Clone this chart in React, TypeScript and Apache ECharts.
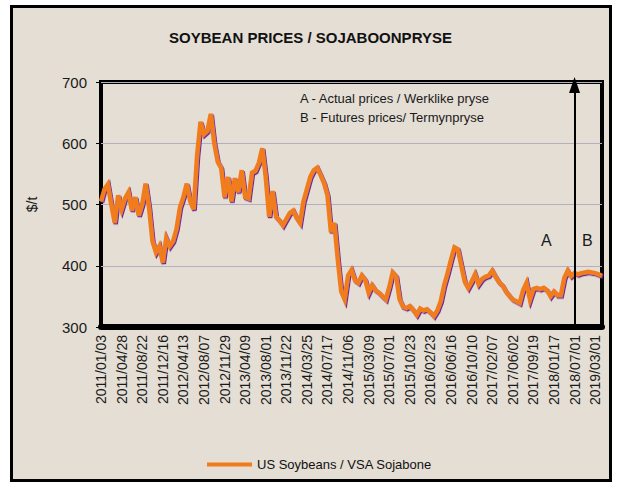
import React, { useEffect, useRef } from "react";
import * as echarts from "echarts";

const tickLabels = [
  "2011/01/03", "2011/04/28", "2011/08/22", "2011/12/16", "2012/04/13",
  "2012/08/07", "2012/11/29", "2013/04/09", "2013/08/01", "2013/11/22",
  "2014/03/25", "2014/07/17", "2014/11/06", "2015/03/09", "2015/07/01",
  "2015/10/23", "2016/02/23", "2016/06/16", "2016/10/10", "2017/02/07",
  "2017/06/02", "2017/09/19", "2018/01/17", "2018/07/01", "2019/03/01",
];
const pointsPerTick = 6;

const soybeanPrices = [
  505, 525, 533, 500, 470, 515, 492, 510, 520, 490, 512, 482, 500, 534, 495,
  440, 422, 432, 405, 445, 432, 440, 460, 495, 512, 534, 505, 492, 580, 635,
  615, 620, 648, 600, 570, 560, 512, 545, 505, 543, 520, 556, 512, 510, 552,
  555, 568, 592, 545, 480, 522, 480, 474, 466, 476, 486, 490, 478, 470, 505,
  525, 545, 556, 560, 548, 535, 515, 455, 470, 410, 358, 345, 384, 393, 376,
  372, 384, 377, 356, 368, 360, 356, 350, 345, 365, 389, 383, 345, 333, 331,
  334, 328, 320, 330, 327, 329, 324, 318, 327, 342, 368, 388, 410, 430, 427,
  400, 374, 364, 374, 386, 370, 378, 382, 384, 392, 382, 373, 368, 358, 351,
  345, 342, 339, 360, 372, 345, 362, 364, 362, 364, 360, 350, 358, 352, 352,
  380, 392, 383, 388, 386, 388, 389, 390, 389, 388, 386, 384,
];

const yTicks = [300, 400, 500, 600, 700];
const seriesName = "US Soybeans / VSA Sojabone";
const splitDate = "2018/07/01";

export default function App() {
  const ref = useRef<HTMLDivElement>(null);

  useEffect(() => {
    if (!ref.current) return;
    const chart = echarts.init(ref.current, undefined, { renderer: "svg" });
    const categories = soybeanPrices.map((_, i) => String(i));
    const splitIndex = tickLabels.indexOf(splitDate) * pointsPerTick;
    const font = "'Liberation Sans', Arial, sans-serif";

    chart.setOption({
      animation: false,
      backgroundColor: "transparent",
      title: {
        text: "SOYBEAN PRICES / SOJABOONPRYSE",
        left: "center",
        top: 25,
        textStyle: { fontFamily: font, fontSize: 15, fontWeight: "bold", color: "#111" },
      },
      legend: {
        data: [seriesName],
        left: 207,
        top: 458,
        padding: 0,
        icon: "rect",
        itemWidth: 45,
        itemHeight: 4,
        textStyle: { fontFamily: font, fontSize: 13, color: "#111" },
      },
      grid: {
        left: 101,
        top: 82,
        right: 19,
        bottom: 161,
        show: true,
        borderColor: "#000",
        borderWidth: 4,
        backgroundColor: "transparent",
      },
      xAxis: {
        type: "category",
        data: categories,
        boundaryGap: false,
        axisLine: { show: true, lineStyle: { color: "#000", width: 6 } },
        axisTick: { show: false },
        splitLine: { show: false },
        axisLabel: {
          rotate: 90,
          margin: 8,
          interval: (index: number) => index % pointsPerTick === 0 && index / pointsPerTick < tickLabels.length,
          formatter: (_v: string, index: number) => tickLabels[index / pointsPerTick] ?? "",
          fontFamily: font,
          fontSize: 14,
          color: "#1a1a1a",
        },
      },
      yAxis: {
        type: "value",
        min: yTicks[0],
        max: yTicks[yTicks.length - 1],
        interval: 100,
        name: "$/t",
        nameLocation: "middle",
        nameGap: 62,
        nameRotate: 90,
        nameTextStyle: { fontFamily: font, fontSize: 14, color: "#1a1a1a" },
        axisLine: { show: false },
        axisTick: { show: true, length: 5, lineStyle: { color: "#000", width: 1 } },
        splitLine: { show: true, lineStyle: { color: "#b5b0c0", width: 1 } },
        axisLabel: { margin: 14, fontFamily: font, fontSize: 15, color: "#1a1a1a" },
      },
      graphic: [
        {
          type: "text",
          left: 300,
          top: 92,
          style: { text: "A - Actual prices / Werklike pryse", font: `13px ${font}`, fill: "#1a1a1a" },
        },
        {
          type: "text",
          left: 300,
          top: 111,
          style: { text: "B - Futures prices/ Termynpryse", font: `13px ${font}`, fill: "#1a1a1a" },
        },
        {
          type: "text",
          left: 541,
          top: 232,
          style: { text: "A", font: `16px ${font}`, fill: "#1a1a1a" },
        },
        {
          type: "text",
          left: 582,
          top: 232,
          style: { text: "B", font: `16px ${font}`, fill: "#1a1a1a" },
        },
      ],
      series: [
        {
          name: seriesName,
          type: "line",
          data: soybeanPrices,
          showSymbol: false,
          symbol: "none",
          color: "#F07C1B",
          lineStyle: {
            color: "#F07C1B",
            width: 4.5,
            join: "miter",
            shadowColor: "#6b2a8e",
            shadowBlur: 0,
            shadowOffsetX: 1,
            shadowOffsetY: 1.2,
          },
          markLine: {
            silent: true,
            symbol: ["none", "triangle"],
            symbolSize: [11, 16],
            label: { show: false },
            lineStyle: { color: "#000", width: 2, type: "solid" },
            data: [[{ coord: [splitIndex, 300] }, { coord: [splitIndex, 695] }]],
          },
        },
      ],
    });
    return () => chart.dispose();
  }, []);

  return (
    <div style={{ position: "fixed", left: 0, top: 0, width: 621, height: 488, background: "#fff" }}>
      <div
        style={{
          position: "absolute",
          left: 10,
          top: 5,
          width: 602,
          height: 477,
          boxSizing: "border-box",
          border: "3px solid #000",
          background: "#E4DED4",
        }}
      />
      <div ref={ref} style={{ position: "absolute", left: 0, top: 0, width: 621, height: 488 }} />
    </div>
  );
}
